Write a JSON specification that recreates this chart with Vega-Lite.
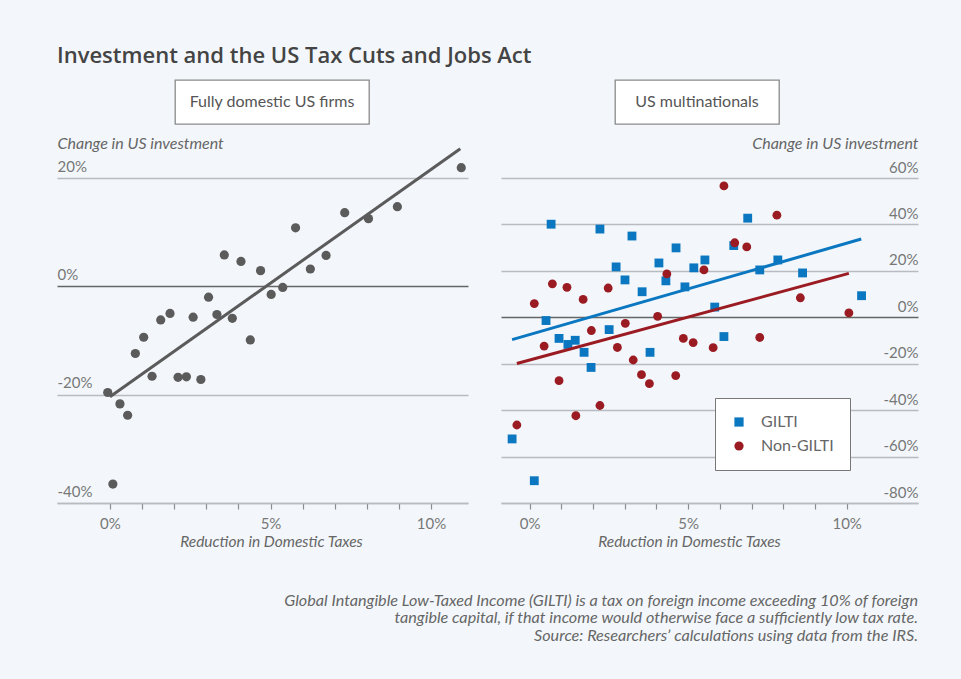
{
  "$schema": "https://vega.github.io/schema/vega-lite/v6.json",
  "background": "#f3f7fb",
  "padding": {"left": 57, "top": 45, "right": 43, "bottom": 36},
  "title": {"text": "Investment and the US Tax Cuts and Jobs Act", "anchor": "start", "fontSize": 22, "fontWeight": 600, "font": "Open Sans", "color": "#444", "offset": 11},
  "config": {
    "view": {"stroke": null},
    "font": "Lato",
    "axis": {
      "labelFont": "Lato", "titleFont": "Lato", "labelColor": "#777", "labelFontSize": 15,
      "titleColor": "#666", "titleFontSize": 15.5, "titleFontStyle": "italic", "titleFontWeight": "normal",
      "labelFlush": false, "labelOverlap": false, "domainColor": "#b8bcc0", "domainWidth": 1.3,
      "tickColor": "#8a8d90", "tickWidth": 1.2, "gridWidth": 1.3
    }
  },
  "resolve": {"scale": {"color": "independent", "shape": "independent"}},
  "datasets": {
    "domestic": [
      {"x": -0.07, "y": -19.6}, {"x": 0.09, "y": -36.5}, {"x": 0.31, "y": -21.7}, {"x": 0.55, "y": -23.8},
      {"x": 0.79, "y": -12.4}, {"x": 1.05, "y": -9.4}, {"x": 1.31, "y": -16.6}, {"x": 1.58, "y": -6.2},
      {"x": 1.87, "y": -5.0}, {"x": 2.12, "y": -16.8}, {"x": 2.38, "y": -16.7}, {"x": 2.59, "y": -5.7},
      {"x": 2.83, "y": -17.2}, {"x": 3.07, "y": -2.0}, {"x": 3.33, "y": -5.2}, {"x": 3.56, "y": 5.8},
      {"x": 3.81, "y": -5.9}, {"x": 4.08, "y": 4.6}, {"x": 4.37, "y": -9.9}, {"x": 4.69, "y": 2.9},
      {"x": 5.02, "y": -1.5}, {"x": 5.38, "y": -0.2}, {"x": 5.78, "y": 10.8}, {"x": 6.24, "y": 3.2},
      {"x": 6.73, "y": 5.7}, {"x": 7.31, "y": 13.6}, {"x": 8.05, "y": 12.5}, {"x": 8.95, "y": 14.7},
      {"x": 10.94, "y": 21.9}
    ],
    "domesticFit": [{"x": 0, "y": -20.4}, {"x": 10.91, "y": 25.4}],
    "multi": [
      {"group": "GILTI", "x": -0.55, "y": -52.4}, {"group": "GILTI", "x": 0.15, "y": -70.4},
      {"group": "GILTI", "x": 0.52, "y": -1.4}, {"group": "GILTI", "x": 0.68, "y": 40.1},
      {"group": "GILTI", "x": 0.93, "y": -9.1}, {"group": "GILTI", "x": 1.21, "y": -11.7},
      {"group": "GILTI", "x": 1.44, "y": -9.9}, {"group": "GILTI", "x": 1.72, "y": -15.1},
      {"group": "GILTI", "x": 1.94, "y": -21.6}, {"group": "GILTI", "x": 2.22, "y": 38.0},
      {"group": "GILTI", "x": 2.51, "y": -5.3}, {"group": "GILTI", "x": 2.73, "y": 21.7},
      {"group": "GILTI", "x": 3.01, "y": 16.1}, {"group": "GILTI", "x": 3.23, "y": 35.0},
      {"group": "GILTI", "x": 3.55, "y": 11.0}, {"group": "GILTI", "x": 3.80, "y": -15.1},
      {"group": "GILTI", "x": 4.08, "y": 23.4}, {"group": "GILTI", "x": 4.30, "y": 15.7},
      {"group": "GILTI", "x": 4.62, "y": 29.9}, {"group": "GILTI", "x": 4.90, "y": 13.1},
      {"group": "GILTI", "x": 5.18, "y": 21.3}, {"group": "GILTI", "x": 5.53, "y": 24.7},
      {"group": "GILTI", "x": 5.84, "y": 4.4}, {"group": "GILTI", "x": 6.13, "y": -8.3},
      {"group": "GILTI", "x": 6.44, "y": 30.9}, {"group": "GILTI", "x": 6.88, "y": 42.7},
      {"group": "GILTI", "x": 7.26, "y": 20.4}, {"group": "GILTI", "x": 7.83, "y": 24.7},
      {"group": "GILTI", "x": 8.61, "y": 19.1}, {"group": "GILTI", "x": 10.47, "y": 9.3},
      {"group": "Non-GILTI", "x": -0.40, "y": -46.4}, {"group": "Non-GILTI", "x": 0.15, "y": 5.9},
      {"group": "Non-GILTI", "x": 0.46, "y": -12.4}, {"group": "Non-GILTI", "x": 0.72, "y": 14.4},
      {"group": "Non-GILTI", "x": 0.93, "y": -27.3}, {"group": "Non-GILTI", "x": 1.18, "y": 12.9},
      {"group": "Non-GILTI", "x": 1.46, "y": -42.4}, {"group": "Non-GILTI", "x": 1.69, "y": 7.7},
      {"group": "Non-GILTI", "x": 1.95, "y": -5.7}, {"group": "Non-GILTI", "x": 2.22, "y": -38.0},
      {"group": "Non-GILTI", "x": 2.48, "y": 12.6}, {"group": "Non-GILTI", "x": 2.77, "y": -13.0},
      {"group": "Non-GILTI", "x": 3.02, "y": -2.6}, {"group": "Non-GILTI", "x": 3.27, "y": -18.4},
      {"group": "Non-GILTI", "x": 3.53, "y": -24.7}, {"group": "Non-GILTI", "x": 3.78, "y": -28.6},
      {"group": "Non-GILTI", "x": 4.04, "y": 0.4}, {"group": "Non-GILTI", "x": 4.33, "y": 18.7},
      {"group": "Non-GILTI", "x": 4.61, "y": -25.1}, {"group": "Non-GILTI", "x": 4.85, "y": -9.1},
      {"group": "Non-GILTI", "x": 5.16, "y": -10.9}, {"group": "Non-GILTI", "x": 5.50, "y": 20.4},
      {"group": "Non-GILTI", "x": 5.79, "y": -13.1}, {"group": "Non-GILTI", "x": 6.13, "y": 56.6},
      {"group": "Non-GILTI", "x": 6.47, "y": 32.1}, {"group": "Non-GILTI", "x": 6.85, "y": 30.3},
      {"group": "Non-GILTI", "x": 7.26, "y": -8.7}, {"group": "Non-GILTI", "x": 7.80, "y": 44.0},
      {"group": "Non-GILTI", "x": 8.54, "y": 8.4}, {"group": "Non-GILTI", "x": 10.07, "y": 1.9}
    ],
    "multiFit": [
      {"group": "GILTI", "x": -0.55, "y": -9.6}, {"group": "GILTI", "x": 10.46, "y": 33.7},
      {"group": "Non-GILTI", "x": -0.40, "y": -19.9}, {"group": "Non-GILTI", "x": 10.07, "y": 18.9}
    ],
    "headers": [{"panel": "Fully domestic US firms"}, {"panel": "US multinationals"}]
  },
  "spacing": 10,
  "vconcat": [
    {
      "spacing": 0,
      "hconcat": [
        {"width": 117, "height": 44, "data": {"values": []}, "mark": "point"},
        {
          "width": 194, "height": 44,
          "data": {"name": "headers"},
          "transform": [{"filter": "datum.panel === 'Fully domestic US firms'"}],
          "mark": {"type": "text", "fontSize": 16, "color": "#555"},
          "encoding": {"text": {"field": "panel"}},
          "view": {"stroke": "#8a8a8a", "strokeWidth": 1.3, "fill": "#ffffff"}
        },
        {"width": 244, "height": 44, "data": {"values": []}, "mark": "point"},
        {
          "width": 164, "height": 44,
          "data": {"name": "headers"},
          "transform": [{"filter": "datum.panel === 'US multinationals'"}],
          "mark": {"type": "text", "fontSize": 16, "color": "#555"},
          "encoding": {"text": {"field": "panel"}},
          "view": {"stroke": "#8a8a8a", "strokeWidth": 1.3, "fill": "#ffffff"}
        }
      ]
    },
    {
      "spacing": 33,
      "resolve": {"scale": {"color": "independent", "shape": "independent"}},
      "title": {
        "text": [
          "Global Intangible Low-Taxed Income (GILTI) is a tax on foreign income exceeding 10% of foreign",
          "tangible capital, if that income would otherwise face a sufficiently low tax rate.",
          "Source: Researchers’ calculations using data from the IRS."
        ],
        "orient": "bottom", "anchor": "end", "align": "right", "font": "Lato",
        "fontSize": 16.2, "fontStyle": "italic", "fontWeight": "normal", "color": "#666",
        "lineHeight": 17.8, "offset": 43
      },
      "hconcat": [
        {
          "width": 411, "height": 325,
          "layer": [
            {
              "data": {"name": "domestic"},
              "mark": {"type": "circle", "size": 85, "color": "#5b5b5b", "opacity": 1},
              "encoding": {
                "x": {
                  "field": "x", "type": "quantitative",
                  "scale": {"domain": [-1.65, 11.15], "nice": false, "zero": false},
                  "axis": {
                    "values": [0, 1, 2, 3, 4, 5, 6, 7, 8, 9, 10],
                    "labelExpr": "datum.value % 5 === 0 ? datum.value + '%' : ''",
                    "grid": false, "tickSize": 6, "labelPadding": 7,
                    "title": "Reduction in Domestic Taxes",
                    "titleX": 214, "titleY": 38, "titleAlign": "center", "titleBaseline": "middle"
                  }
                },
                "y": {
                  "field": "y", "type": "quantitative",
                  "scale": {"domain": [-40, 20], "nice": false, "zero": false},
                  "axis": {
                    "orient": "left", "values": [-40, -20, 0, 20],
                    "labelExpr": "datum.value + '%'",
                    "grid": true,
                    "gridColor": {"condition": {"test": "datum.value === 0", "value": "#666666"}, "value": "#b8bcc0"},
                    "domain": false, "ticks": false, "tickSize": 0,
                    "labelAlign": "left", "labelBaseline": "alphabetic", "labelPadding": 0, "labelOffset": -7,
                    "title": "Change in US investment", "titleAngle": 0, "titleX": 0, "titleY": -35,
                    "titleFontSize": 16, "titleAlign": "left", "titleBaseline": "middle"
                  }
                }
              }
            },
            {
              "data": {"name": "domesticFit"},
              "mark": {"type": "line", "color": "#5b5b5b", "strokeWidth": 3},
              "encoding": {
                "x": {"field": "x", "type": "quantitative"},
                "y": {"field": "y", "type": "quantitative"}
              }
            }
          ]
        },
        {
          "width": 417, "height": 325,
          "layer": [
            {
              "data": {"name": "multi"},
              "mark": {"type": "point", "filled": true, "size": 78, "opacity": 1},
              "encoding": {
                "x": {
                  "field": "x", "type": "quantitative",
                  "scale": {"domain": [-0.9, 12.25], "nice": false, "zero": false},
                  "axis": {
                    "values": [0, 1, 2, 3, 4, 5, 6, 7, 8, 9, 10],
                    "labelExpr": "datum.value % 5 === 0 ? datum.value + '%' : ''",
                    "grid": false, "tickSize": 6, "labelPadding": 7,
                    "title": "Reduction in Domestic Taxes",
                    "titleX": 188, "titleY": 38, "titleAlign": "center", "titleBaseline": "middle"
                  }
                },
                "y": {
                  "field": "y", "type": "quantitative",
                  "scale": {"domain": [-80, 60], "nice": false, "zero": false},
                  "axis": {
                    "orient": "right", "values": [-80, -60, -40, -20, 0, 20, 40, 60],
                    "labelExpr": "datum.value + '%'",
                    "grid": true,
                    "gridColor": {"condition": {"test": "datum.value === 0", "value": "#666666"}, "value": "#b8bcc0"},
                    "domain": false, "ticks": false, "tickSize": 0,
                    "labelAlign": "right", "labelBaseline": "alphabetic", "labelPadding": 0, "labelOffset": -6,
                    "title": "Change in US investment", "titleAngle": 0, "titleX": 0, "titleY": -35,
                    "titleFontSize": 16, "titleAlign": "right", "titleBaseline": "middle"
                  }
                },
                "color": {
                  "field": "group", "type": "nominal",
                  "scale": {"domain": ["GILTI", "Non-GILTI"], "range": ["#0a77c0", "#9b1b22"]},
                  "legend": {
                    "title": null, "orient": "none", "legendX": 214, "legendY": 220,
                    "fillColor": "#ffffff", "strokeColor": "#777777", "padding": 16,
                    "labelFontSize": 16, "labelColor": "#666", "labelFont": "Lato", "labelOffset": 14,
                    "symbolSize": 85, "rowPadding": 8, "symbolStrokeWidth": 0
                  }
                },
                "shape": {
                  "field": "group", "type": "nominal",
                  "scale": {"domain": ["GILTI", "Non-GILTI"], "range": ["square", "circle"]},
                  "legend": {
                    "title": null, "orient": "none", "legendX": 214, "legendY": 220,
                    "fillColor": "#ffffff", "strokeColor": "#777777", "padding": 16,
                    "labelFontSize": 16, "labelColor": "#666", "labelFont": "Lato", "labelOffset": 14,
                    "symbolSize": 85, "rowPadding": 8, "symbolStrokeWidth": 0
                  }
                }
              }
            },
            {
              "data": {"name": "multiFit"},
              "mark": {"type": "line", "strokeWidth": 3},
              "encoding": {
                "x": {"field": "x", "type": "quantitative"},
                "y": {"field": "y", "type": "quantitative"},
                "color": {"field": "group", "type": "nominal", "legend": null}
              }
            }
          ]
        }
      ]
    }
  ]
}
